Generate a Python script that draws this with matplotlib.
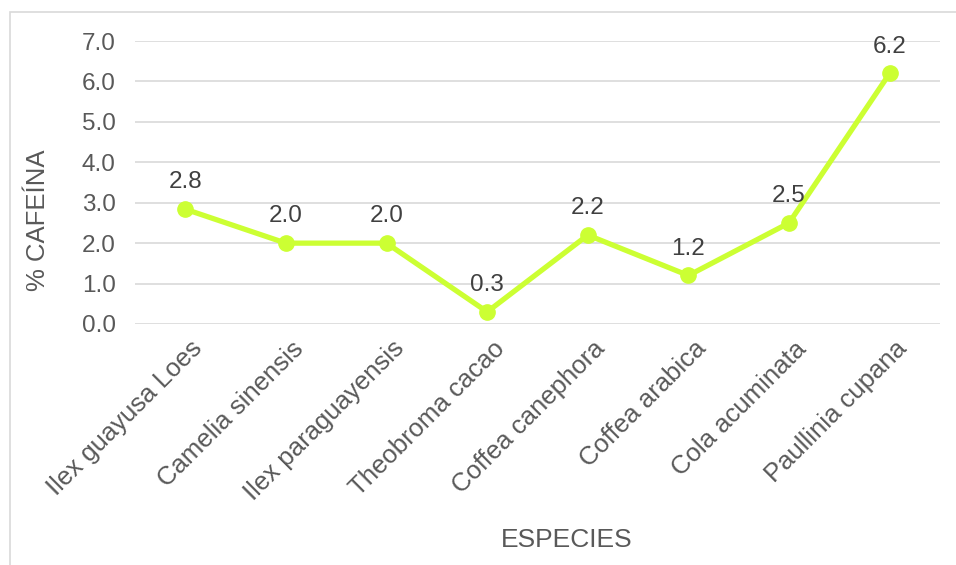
import matplotlib
matplotlib.use("Agg")
import matplotlib.pyplot as plt
import matplotlib.transforms as mtransforms
from matplotlib.patches import Rectangle

plt.rcParams["font.family"] = ["Liberation Sans", "DejaVu Sans"]

# Caffeine content by species
species = ["Ilex guayusa Loes", "Camelia sinensis", "Ilex paraguayensis",
           "Theobroma cacao", "Coffea canephora", "Coffea arabica",
           "Cola acuminata", "Paullinia cupana"]
caffeine_pct = [2.84, 2.0, 2.0, 0.3, 2.2, 1.2, 2.5, 6.2]
y_ticks = [0.0, 1.0, 2.0, 3.0, 4.0, 5.0, 6.0, 7.0]

LINE_COLOR = "#ccff33"
TEXT_COLOR = "#595959"
LABEL_COLOR = "#404040"
GRID_COLOR = "#d9d9d9"

fig = plt.figure(figsize=(9.56, 5.65), dpi=100)
W, H = 956, 565

# outer chart frame (only top/left edges fall inside the canvas)
fig.patches.append(Rectangle((10 / W, -0.1), 1.2, 1 - 12 / H + 0.1,
                             transform=fig.transFigure, fill=False,
                             edgecolor=GRID_COLOR, linewidth=1.2))

ax = fig.add_axes([135 / W, 1 - 324 / H, (940 - 135) / W, (324 - 41) / H])
x = list(range(len(species)))
ax.plot(x, caffeine_pct, color=LINE_COLOR, linewidth=3.8, marker="o",
        markersize=11, solid_capstyle="round", zorder=3)

for xi, v in zip(x, caffeine_pct):
    ax.annotate(f"{v:.1f}", (xi, v), xytext=(0, 15), textcoords="offset points",
                ha="center", va="baseline", fontsize=17.5, color=LABEL_COLOR)

ax.set_xlim(-0.5, len(species) - 0.5)
ax.set_ylim(0, 7)
ax.set_yticks(y_ticks)
ax.set_yticklabels([f"{t:.1f}" for t in y_ticks])
ax.yaxis.grid(True, color=GRID_COLOR, linewidth=1.2)
ax.set_axisbelow(True)
for s in ax.spines.values():
    s.set_visible(False)

ax.set_xticks(x)
ax.set_xticklabels(species, rotation=45, ha="right", rotation_mode="anchor",
                   fontsize=18.5)
ax.tick_params(axis="both", length=0, colors=TEXT_COLOR)
ax.tick_params(axis="y", labelsize=17.5, pad=14)
ax.tick_params(axis="x", pad=9)
shift = mtransforms.ScaledTranslation(5 / 100, 0, fig.dpi_scale_trans)
for lbl in ax.get_xticklabels():
    lbl.set_transform(lbl.get_transform() + shift)

fig.text(38 / W, 1 - 220 / H, "% CAFEÍNA", rotation=90, ha="center",
         va="center", fontsize=18.5, color=TEXT_COLOR)
fig.text(567 / W, 1 - 540 / H, "ESPECIES", ha="center", va="center",
         fontsize=19, color=TEXT_COLOR)

fig.savefig("out.png", dpi=100)
